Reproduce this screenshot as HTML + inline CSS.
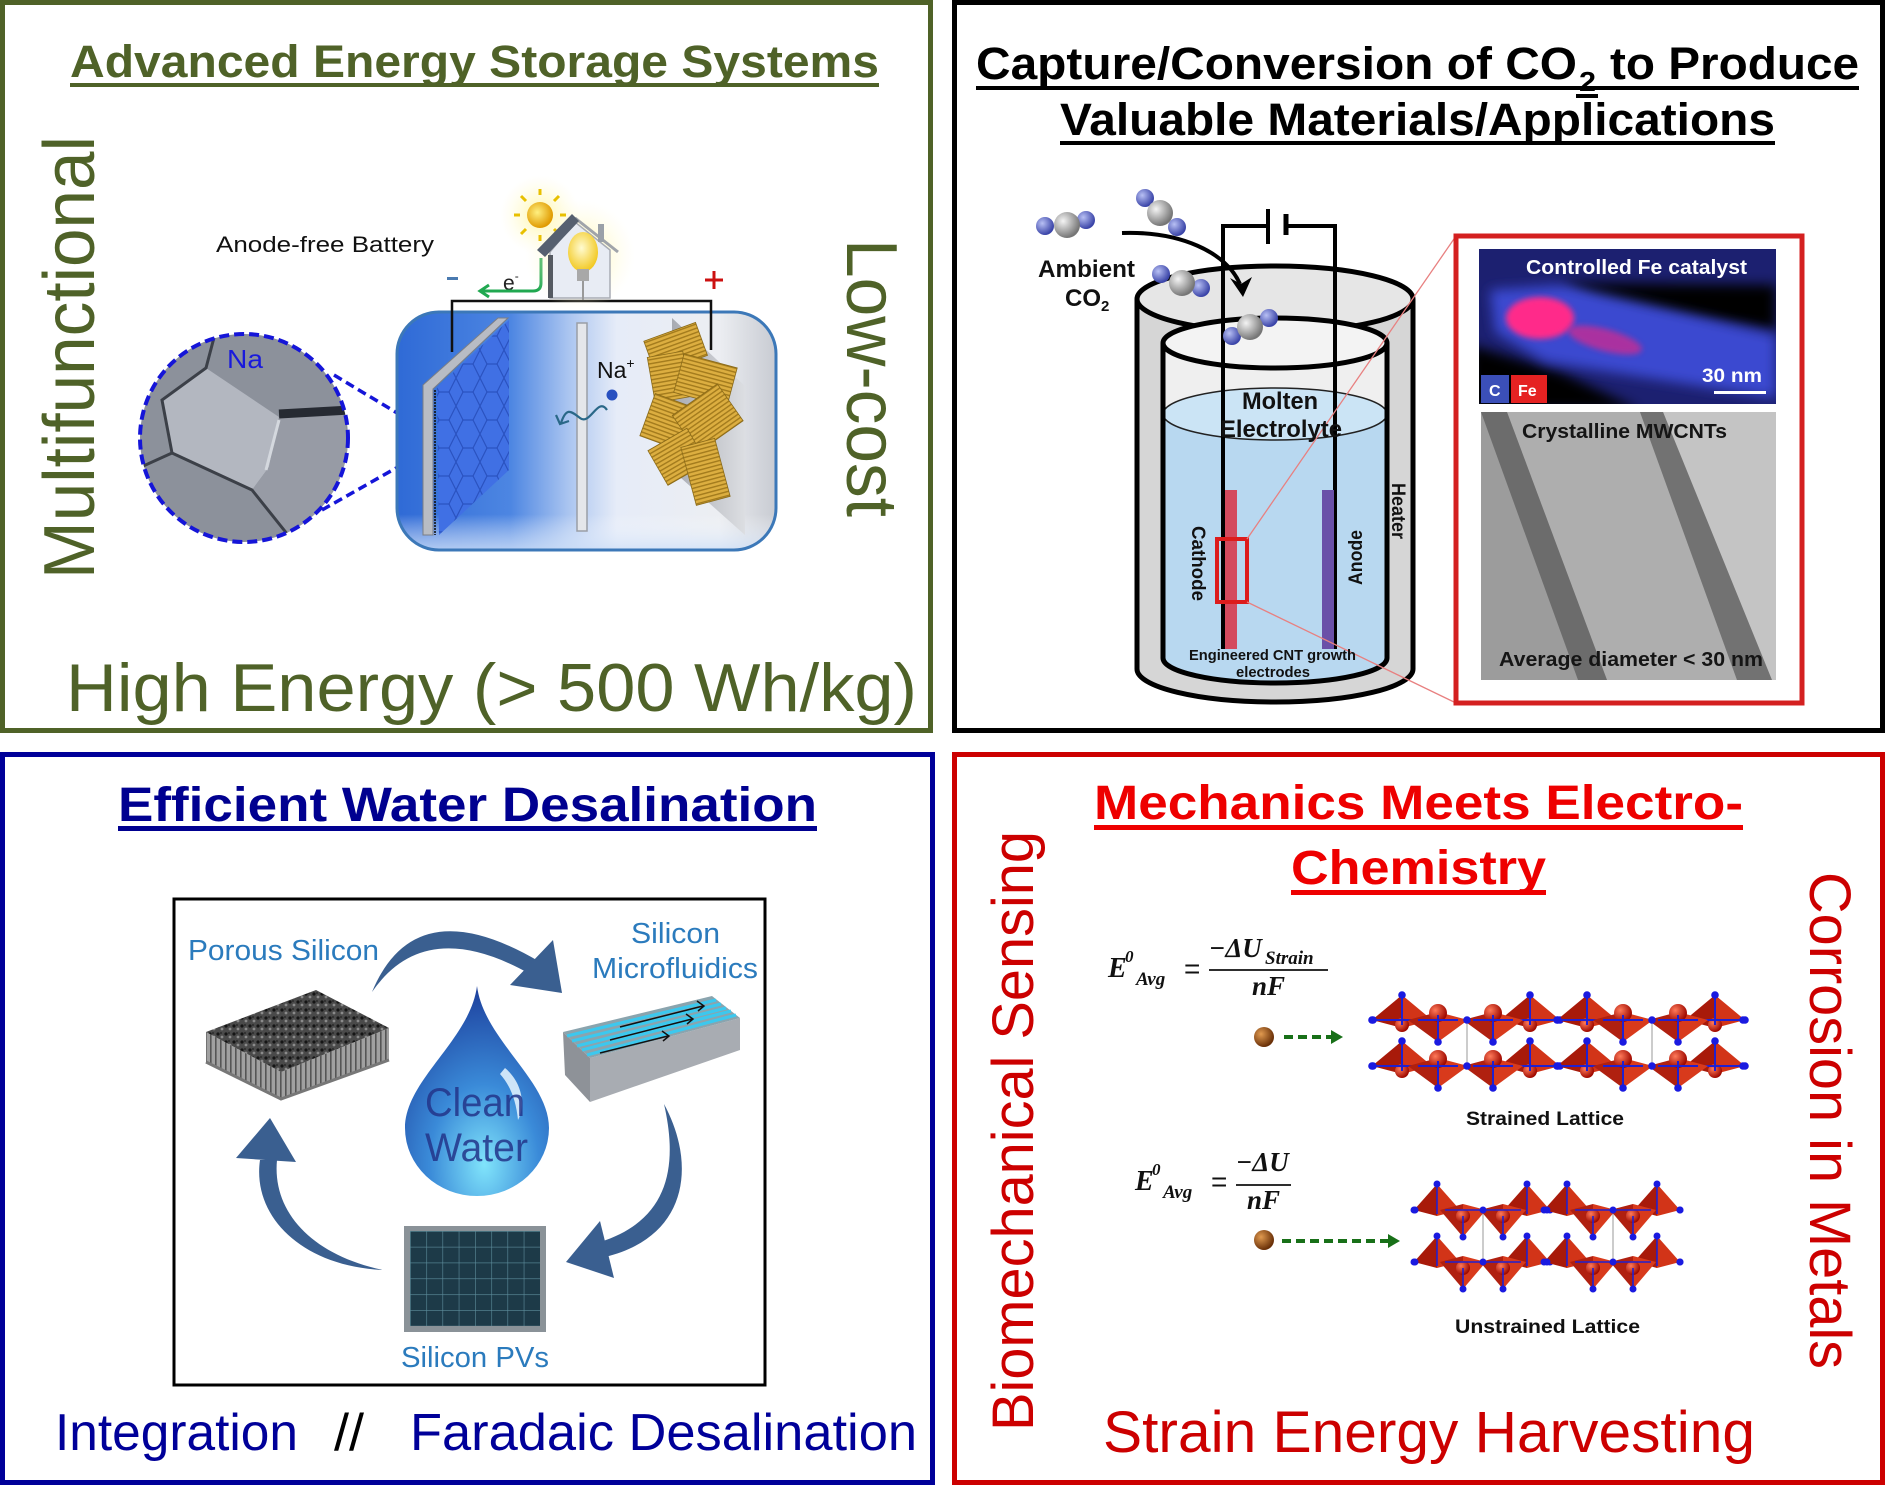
<!DOCTYPE html>
<html><head><meta charset="utf-8"><style>
html,body{margin:0;padding:0;background:#fff;}
svg{display:block;}
text{font-family:"Liberation Sans",Arial,sans-serif;}
.b{font-weight:bold;}
.m{font-family:"Liberation Serif","Times New Roman",serif;font-style:italic;font-weight:bold;}
</style></head><body>
<svg xmlns="http://www.w3.org/2000/svg" xmlns:xlink="http://www.w3.org/1999/xlink" width="1903" height="1505" viewBox="0 0 1903 1505">
<defs>
 <radialGradient id="gGray" cx="35%" cy="35%" r="65%"><stop offset="0" stop-color="#f4f4f4"/><stop offset="1" stop-color="#767676"/></radialGradient>
 <radialGradient id="gBlue" cx="35%" cy="35%" r="65%"><stop offset="0" stop-color="#b8c0f4"/><stop offset="1" stop-color="#3a44a8"/></radialGradient>
 <radialGradient id="gRed" cx="35%" cy="35%" r="65%"><stop offset="0" stop-color="#ff7a5a"/><stop offset="1" stop-color="#a00a00"/></radialGradient>
 <radialGradient id="gBrown" cx="35%" cy="35%" r="65%"><stop offset="0" stop-color="#e09a50"/><stop offset="1" stop-color="#6a3008"/></radialGradient>
 <radialGradient id="gSun" cx="40%" cy="40%" r="60%"><stop offset="0" stop-color="#fff080"/><stop offset="1" stop-color="#e09a00"/></radialGradient>
 <radialGradient id="gBulb" cx="45%" cy="40%" r="60%"><stop offset="0" stop-color="#fffbd0"/><stop offset="1" stop-color="#f2c820"/></radialGradient>
 <radialGradient id="gGlow" cx="50%" cy="50%" r="50%"><stop offset="0" stop-color="#fff7a0" stop-opacity="1"/><stop offset="1" stop-color="#fffbe0" stop-opacity="0"/></radialGradient>
 <radialGradient id="gDrop" cx="0.55" cy="0.85" r="0.85"><stop offset="0" stop-color="#80e4fb"/><stop offset="0.45" stop-color="#3a8ad8"/><stop offset="1" stop-color="#1d3f9c"/></radialGradient>
 <linearGradient id="gBox" x1="0" x2="1" y1="0" y2="0">
   <stop offset="0" stop-color="#2f6ad6"/><stop offset="0.3" stop-color="#4d86e2"/><stop offset="0.45" stop-color="#a9c4f0"/><stop offset="0.58" stop-color="#e6ecf8"/><stop offset="0.85" stop-color="#eceef2"/><stop offset="1" stop-color="#c8cbd2"/>
 </linearGradient>
 <linearGradient id="gBoxV" x1="0" x2="0" y1="0" y2="1">
   <stop offset="0" stop-color="#ffffff" stop-opacity="0"/><stop offset="0.85" stop-color="#ffffff" stop-opacity="0"/><stop offset="1" stop-color="#cfe0f8" stop-opacity="0.8"/>
 </linearGradient>
 <linearGradient id="gPlate" x1="0" x2="1" y1="0" y2="0"><stop offset="0" stop-color="#a8abb2"/><stop offset="1" stop-color="#dcdee2"/></linearGradient>
 <pattern id="pHex" patternUnits="userSpaceOnUse" width="24" height="28"><rect width="24" height="28" fill="#4070e4"/><path d="M0,14 L7,0 H17 L24,14 L17,28 H7 Z" fill="none" stroke="#2a52c0" stroke-width="1.2"/></pattern>
 <pattern id="pGold" patternUnits="userSpaceOnUse" width="4" height="4"><rect width="4" height="4" fill="#dcae40"/><rect width="4" height="1.4" fill="#a27a1c"/></pattern>
 <pattern id="pPV" patternUnits="userSpaceOnUse" x="410" y="1231" width="16.25" height="15.8"><rect width="16.25" height="15.8" fill="#1d3a48"/><path d="M0,0 H16.25 M0,0 V15.8" stroke="#5d8d9c" stroke-width="1.2"/></pattern>
 <pattern id="pPor" patternUnits="userSpaceOnUse" width="8" height="8"><rect width="8" height="8" fill="#4a4a4a"/><circle cx="2" cy="2" r="1.6" fill="#151515"/><circle cx="6" cy="5" r="1.4" fill="#8a8a8a"/><circle cx="5" cy="1" r="0.9" fill="#222"/></pattern>
 <pattern id="pVs" patternUnits="userSpaceOnUse" width="5" height="10"><rect width="5" height="10" fill="#a0a0a0"/><rect width="1.6" height="10" fill="#555"/></pattern>
 <filter id="fb6" x="-50%" y="-50%" width="200%" height="200%"><feGaussianBlur stdDeviation="6"/></filter>
 <filter id="fb3" x="-50%" y="-50%" width="200%" height="200%"><feGaussianBlur stdDeviation="3"/></filter>
 <clipPath id="cMag"><circle cx="244" cy="438" r="104"/></clipPath>
 <clipPath id="cEdx"><rect x="1479" y="249" width="297" height="155"/></clipPath>
 <clipPath id="cTem"><rect x="1481" y="412" width="295" height="268"/></clipPath>
 <g id="su"><polygon points="0,-25 -30,0 0,8" fill="#a81a0a"/><polygon points="0,-25 0,8 30,0" fill="#d23418"/><circle cx="0" cy="5" r="7" fill="url(#gRed)"/><path d="M0,-25 V5 M-30,0 H30" stroke="#2020d0" stroke-width="2"/><circle cx="0" cy="-25" r="3.8" fill="#1a1ae0"/><circle cx="-30" cy="0" r="3.8" fill="#1a1ae0"/><circle cx="30" cy="0" r="3.8" fill="#1a1ae0"/></g>
 <g id="sd"><polygon points="0,22 -30,0 0,-8" fill="#b02010"/><polygon points="0,22 0,-8 30,0" fill="#d83a1c"/><circle cx="0" cy="-7" r="9" fill="url(#gRed)"/><path d="M0,22 V-5 M-20,0 H20" stroke="#2020d0" stroke-width="2"/><circle cx="0" cy="22" r="3.8" fill="#1a1ae0"/></g>
 <g id="uu"><polygon points="0,-26 -23,0 0,6" fill="#a81a0a"/><polygon points="0,-26 0,6 23,0" fill="#d23418"/><path d="M0,-26 V4" stroke="#2020d0" stroke-width="1.6"/><circle cx="0" cy="-26" r="3.5" fill="#1a1ae0"/><circle cx="-23" cy="0" r="3.5" fill="#1a1ae0"/><circle cx="23" cy="0" r="3.5" fill="#1a1ae0"/></g>
 <g id="ud"><polygon points="0,27 -23,0 0,-6" fill="#b02010"/><polygon points="0,27 0,-6 23,0" fill="#d83a1c"/><circle cx="0" cy="6" r="7" fill="url(#gRed)"/><path d="M0,27 V6 M-18,0 H18" stroke="#2020d0" stroke-width="1.6"/><circle cx="0" cy="27" r="3.5" fill="#1a1ae0"/></g>
 <g id="co2g"><circle r="13" fill="url(#gGray)"/></g>
 <g id="co2b"><circle r="9" fill="url(#gBlue)"/></g>
</defs>
<rect width="1903" height="1505" fill="#fff"/>

<!-- ================= TOP LEFT ================= -->
<rect x="2.5" y="2.5" width="928" height="728" fill="none" stroke="#4f6228" stroke-width="5"/>
<text x="70" y="77" class="b" font-size="45" fill="#4f6228" textLength="809" lengthAdjust="spacingAndGlyphs">Advanced Energy Storage Systems</text>
<rect x="70" y="83" width="809" height="4" fill="#4f6228"/>
<text transform="translate(94,579) rotate(-90)" font-size="72" fill="#4f6228" textLength="443" lengthAdjust="spacingAndGlyphs">Multifunctional</text>
<text transform="translate(847,239) rotate(90)" font-size="72" fill="#4f6228" textLength="278" lengthAdjust="spacingAndGlyphs">Low-cost</text>
<text x="66" y="711" font-size="68" fill="#4f6228" textLength="851" lengthAdjust="spacingAndGlyphs">High Energy (&gt; 500 Wh/kg)</text>

<text x="216" y="252" font-size="22" fill="#111" textLength="218" lengthAdjust="spacingAndGlyphs">Anode-free Battery</text>

<g clip-path="url(#cMag)">
 <rect x="138" y="332" width="212" height="212" fill="#8c919b"/>
 <polygon points="162,400 206,368 279,417 269,467 252,490 172,453" fill="#b3b7c0"/>
 <polygon points="252,490 269,467 279,417 345,412 352,520 300,548" fill="#979ba5"/>
 <polyline points="130,472 172,453 162,400 206,368 216,330" fill="none" stroke="#3c4048" stroke-width="3"/>
 <line x1="279" y1="414" x2="350" y2="410" stroke="#262a32" stroke-width="9"/>
 <polyline points="172,453 252,490 292,540" fill="none" stroke="#3c4048" stroke-width="3"/>
 <line x1="279" y1="420" x2="266" y2="470" stroke="#d4d8de" stroke-width="3"/>
</g>
<circle cx="244" cy="438" r="104" fill="none" stroke="#1515d8" stroke-width="4" stroke-dasharray="10 5"/>
<text x="227" y="368" font-size="26" fill="#1a1adc" textLength="36" lengthAdjust="spacingAndGlyphs">Na</text>
<line x1="334" y1="375" x2="442" y2="440" stroke="#1515d8" stroke-width="3.5" stroke-dasharray="9 5"/>
<line x1="322" y1="510" x2="442" y2="442" stroke="#1515d8" stroke-width="3.5" stroke-dasharray="9 5"/>

<rect x="397" y="312" width="379" height="238" rx="42" fill="url(#gBox)"/>
<rect x="397" y="312" width="379" height="238" rx="42" fill="url(#gBoxV)"/>
<rect x="397" y="312" width="379" height="238" rx="42" fill="none" stroke="#3c78b8" stroke-width="3"/>
<polygon points="423,385 498,318 508,318 433,389 433,535 423,535" fill="#b8bcc4" stroke="#7a7e86" stroke-width="1"/>
<polygon points="437,388 509,320 509,470 439,535" fill="url(#pHex)"/>
<line x1="435" y1="390" x2="435" y2="535" stroke="#111" stroke-width="1.6" stroke-dasharray="2 1"/>
<rect x="577" y="323" width="10" height="208" fill="#e4e6ea" stroke="#9a9ea6" stroke-width="1.5"/>
<text x="597" y="378" font-size="23" fill="#111">Na<tspan font-size="14" dy="-10">+</tspan></text>
<circle cx="612" cy="395" r="5.5" fill="#2850c0"/>
<path d="M607,410 C598,396 590,426 580,418 S566,408 561,423" fill="none" stroke="#2a6888" stroke-width="2.2"/>
<polyline points="556,415 560,424 569,421" fill="none" stroke="#2a6888" stroke-width="2.2"/>
<polygon points="672,318 745,386 745,535 672,470" fill="url(#gPlate)"/>
<g stroke="#8a6a18" stroke-width="0.8">
 <rect x="648" y="331" width="55" height="35" transform="rotate(-20 675 348)" fill="url(#pGold)"/>
 <rect x="651" y="354" width="36" height="46" transform="rotate(-10 669 377)" fill="url(#pGold)"/>
 <rect x="678" y="360" width="55" height="40" transform="rotate(15 705 380)" fill="url(#pGold)"/>
 <rect x="646" y="400" width="45" height="45" transform="rotate(20 669 423)" fill="url(#pGold)"/>
 <rect x="680" y="396" width="55" height="45" transform="rotate(-35 707 418)" fill="url(#pGold)"/>
 <rect x="655" y="437" width="45" height="40" transform="rotate(-30 677 457)" fill="url(#pGold)"/>
 <rect x="688" y="442" width="35" height="60" transform="rotate(-15 705 472)" fill="url(#pGold)"/>
</g>
<path d="M452,352 V301 H711 V350" fill="none" stroke="#111" stroke-width="2.5"/>
<rect x="447" y="277" width="11" height="3" fill="#4a7ab0"/>
<path d="M705,280 H723 M714,271 V289" stroke="#cc1010" stroke-width="3"/>
<text x="503" y="290" font-size="21" fill="#222">e<tspan font-size="12" dy="-10">-</tspan></text>
<path d="M541,258 V283 Q541,291 533,291 H482" fill="none" stroke="#20a850" stroke-width="3"/>
<polyline points="489,285 480,291 489,297" fill="none" stroke="#20a850" stroke-width="3"/>
<circle cx="540" cy="215" r="40" fill="url(#gGlow)"/>
<circle cx="580" cy="255" r="55" fill="url(#gGlow)"/>
<g stroke="#e8c000" stroke-width="3">
 <path d="M540,195 V189 M540,235 V241 M520,215 H514 M560,215 H566 M526,201 L521,196 M554,229 L559,234 M554,201 L559,196 M526,229 L521,234"/>
</g>
<circle cx="540" cy="215" r="13" fill="url(#gSun)"/>
<polygon points="550,252 575,222 610,250 610,298 550,298" fill="#e8ecf4" stroke="#a8acb4" stroke-width="1.5"/>
<line x1="575" y1="218" x2="618" y2="252" stroke="#a0a4aa" stroke-width="3"/>
<rect x="598" y="224" width="6" height="18" fill="#9aa0a8"/>
<polygon points="537,250 572,214 579,221 545,257" fill="#566070"/>
<rect x="548" y="255" width="5" height="43" fill="#555a62"/>
<ellipse cx="583" cy="252" rx="15" ry="20" fill="url(#gBulb)"/>
<rect x="577" y="269" width="12" height="12" fill="#a8a8a8"/>
<line x1="583" y1="281" x2="583" y2="300" stroke="#999" stroke-width="2"/>

<!-- ================= TOP RIGHT ================= -->
<rect x="954.5" y="2.5" width="928" height="728" fill="none" stroke="#000" stroke-width="5"/>
<text x="976" y="79" class="b" font-size="45" fill="#000" textLength="601" lengthAdjust="spacingAndGlyphs">Capture/Conversion of CO</text>
<text x="1579" y="91" class="b" font-size="28" fill="#000" textLength="17" lengthAdjust="spacingAndGlyphs">2</text>
<text x="1610" y="79" class="b" font-size="45" fill="#000" textLength="249" lengthAdjust="spacingAndGlyphs">to Produce</text>
<rect x="976" y="86" width="883" height="4" fill="#000"/>
<rect x="1576" y="94" width="22" height="4" fill="#000"/>
<text x="1060" y="135" class="b" font-size="45" fill="#000" textLength="715" lengthAdjust="spacingAndGlyphs">Valuable Materials/Applications</text>
<rect x="1060" y="141" width="715" height="4" fill="#000"/>

<path d="M1137,299 A138,33 0 0 1 1413,299 V669 A138,33 0 0 1 1137,669 Z" fill="#d6d6d6"/>
<ellipse cx="1275" cy="299" rx="138" ry="33" fill="#e6e6e6" stroke="#000" stroke-width="5"/>
<path d="M1163,343 V658 A112,25 0 0 0 1387,658 V343 Z" fill="#efefef"/>
<ellipse cx="1275" cy="343" rx="112" ry="25" fill="#f3f3f3" stroke="#000" stroke-width="5"/>
<path d="M1163,414 A112,26 0 0 0 1387,414 V658 A112,25 0 0 1 1163,658 Z" fill="#b8d8f0"/>
<ellipse cx="1275" cy="414" rx="112" ry="26" fill="#cbe4f5" stroke="#222" stroke-width="1.5"/>
<path d="M1163,343 V658 A112,25 0 0 0 1387,658 V343" fill="none" stroke="#000" stroke-width="5"/>
<path d="M1137,299 V669 A138,33 0 0 0 1413,669 V299" fill="none" stroke="#000" stroke-width="5"/>
<path d="M1223,649 V226 H1268 M1285,226 H1335 V649" fill="none" stroke="#000" stroke-width="4"/>
<line x1="1268" y1="209" x2="1268" y2="244" stroke="#000" stroke-width="4"/>
<line x1="1286" y1="214" x2="1286" y2="235" stroke="#000" stroke-width="5"/>
<rect x="1225" y="490" width="12" height="159" fill="#d44a5e"/>
<rect x="1322" y="490" width="12" height="159" fill="#6a50a8"/>
<rect x="1217" y="539" width="30" height="63" fill="none" stroke="#dd1c1c" stroke-width="4"/>
<line x1="1247" y1="539" x2="1456" y2="236" stroke="#e88080" stroke-width="1.3"/>
<line x1="1247" y1="602" x2="1456" y2="703" stroke="#e88080" stroke-width="1.3"/>
<text x="1242" y="409" class="b" font-size="24" fill="#111" textLength="76" lengthAdjust="spacingAndGlyphs">Molten</text>
<text x="1220" y="437" class="b" font-size="24" fill="#111" textLength="122" lengthAdjust="spacingAndGlyphs">Electrolyte</text>
<text transform="translate(1192,526) rotate(90)" class="b" font-size="19" fill="#111" textLength="75" lengthAdjust="spacingAndGlyphs">Cathode</text>
<text transform="translate(1362,585) rotate(-90)" class="b" font-size="19" fill="#111" textLength="55" lengthAdjust="spacingAndGlyphs">Anode</text>
<text transform="translate(1392,483) rotate(90)" class="b" font-size="19" fill="#111" textLength="56" lengthAdjust="spacingAndGlyphs">Heater</text>
<text x="1189" y="660" class="b" font-size="15" fill="#111" textLength="167" lengthAdjust="spacingAndGlyphs">Engineered CNT growth</text>
<text x="1236" y="677" class="b" font-size="15" fill="#111" textLength="74" lengthAdjust="spacingAndGlyphs">electrodes</text>
<text x="1038" y="277" class="b" font-size="24" fill="#111" textLength="97" lengthAdjust="spacingAndGlyphs">Ambient</text>
<text x="1065" y="306" class="b" font-size="24" fill="#111">CO<tspan font-size="15" dy="5">2</tspan></text>
<path d="M1122,233 C1180,231 1226,252 1240,284" fill="none" stroke="#000" stroke-width="4"/>
<polygon points="1243,297 1230,278 1241,284 1252,277" fill="#000"/>
<use xlink:href="#co2b" x="1045" y="226"/><use xlink:href="#co2b" x="1086" y="220"/><use xlink:href="#co2g" x="1067" y="225"/>
<use xlink:href="#co2b" x="1145" y="198"/><use xlink:href="#co2b" x="1177" y="227"/><use xlink:href="#co2g" x="1160" y="213"/>
<use xlink:href="#co2b" x="1161" y="274"/><use xlink:href="#co2b" x="1201" y="288"/><use xlink:href="#co2g" x="1182" y="283"/>
<use xlink:href="#co2b" x="1232" y="336"/><use xlink:href="#co2b" x="1269" y="318"/><use xlink:href="#co2g" x="1250" y="327"/>

<rect x="1456" y="236" width="346" height="467" fill="#fff" stroke="#d42020" stroke-width="5"/>
<g clip-path="url(#cEdx)">
 <rect x="1479" y="249" width="297" height="155" fill="#1c2070"/>
 <polygon points="1560,283 1776,285 1776,330 1600,305" fill="#000" filter="url(#fb6)"/>
 <polygon points="1470,345 1470,410 1640,410 1560,372" fill="#000" filter="url(#fb6)"/>
 <polygon points="1490,290 1565,285 1776,335 1776,398 1545,362 1495,332" fill="#3a48d0" filter="url(#fb6)"/>
 <ellipse cx="1540" cy="318" rx="34" ry="21" fill="#ff2a8a" filter="url(#fb3)"/>
 <ellipse cx="1605" cy="340" rx="38" ry="11" fill="#d02a90" opacity="0.75" transform="rotate(15 1605 340)" filter="url(#fb3)"/>
</g>
<text x="1526" y="274" class="b" font-size="20" fill="#fff" textLength="221" lengthAdjust="spacingAndGlyphs">Controlled Fe catalyst</text>
<rect x="1481" y="375" width="28" height="28" fill="#3b4fb8"/>
<rect x="1511" y="375" width="36" height="28" fill="#e52222"/>
<text x="1489" y="396" class="b" font-size="16" fill="#fff">C</text>
<text x="1518" y="396" class="b" font-size="16" fill="#fff">Fe</text>
<text x="1702" y="382" class="b" font-size="19" fill="#fff" textLength="60" lengthAdjust="spacingAndGlyphs">30 nm</text>
<rect x="1714" y="391" width="52" height="3" fill="#fff"/>
<g clip-path="url(#cTem)">
 <rect x="1481" y="412" width="295" height="268" fill="#9c9c9c"/>
 <polygon points="1507,412 1640,412 1737,680 1607,680" fill="#aeaeae"/>
 <polygon points="1663,412 1776,412 1776,680 1770,680" fill="#c4c4c4"/>
 <polygon points="1481,412 1507,412 1607,680 1578,680" fill="#6c6c6c"/>
 <polygon points="1640,412 1663,412 1772,680 1737,680" fill="#727272"/>
</g>
<text x="1522" y="438" class="b" font-size="20" fill="#151515" textLength="205" lengthAdjust="spacingAndGlyphs">Crystalline MWCNTs</text>
<text x="1499" y="666" class="b" font-size="20" fill="#151515" textLength="264" lengthAdjust="spacingAndGlyphs">Average diameter &lt; 30 nm</text>

<!-- ================= BOTTOM LEFT ================= -->
<rect x="2.5" y="754.5" width="930" height="728" fill="none" stroke="#000099" stroke-width="5"/>
<text x="118" y="821" class="b" font-size="48" fill="#000090" textLength="699" lengthAdjust="spacingAndGlyphs">Efficient Water Desalination</text>
<rect x="118" y="826" width="699" height="5" fill="#000090"/>
<rect x="174" y="899" width="591" height="486" fill="none" stroke="#000" stroke-width="3"/>
<text x="188" y="960" font-size="29" fill="#2b7bbd" textLength="191" lengthAdjust="spacingAndGlyphs">Porous Silicon</text>
<text x="631" y="943" font-size="29" fill="#2b7bbd" textLength="89" lengthAdjust="spacingAndGlyphs">Silicon</text>
<text x="592" y="978" font-size="29" fill="#2b7bbd" textLength="166" lengthAdjust="spacingAndGlyphs">Microfluidics</text>
<text x="401" y="1367" font-size="29" fill="#2b7bbd" textLength="148" lengthAdjust="spacingAndGlyphs">Silicon PVs</text>
<g fill="#3a5f90">
 <path d="M372,992 Q415,888 540,962 L530,974 Q425,915 372,992 Z"/>
 <polygon points="562,993 553,940 510,985"/>
 <path d="M664,1104 C697,1165 688,1237 605,1257 L600,1242 C670,1220 678,1165 664,1104 Z"/>
 <polygon points="566,1262 600,1221 614,1278"/>
 <path d="M383,1270 C300,1266 252,1215 260,1160 L277,1160 C272,1212 312,1255 383,1270 Z"/>
 <polygon points="270,1118 236,1158 296,1162"/>
</g>
<path d="M477,986 C470,1040 405,1080 405,1128 A72,68 0 0 0 549,1128 C549,1080 484,1040 477,986 Z" fill="url(#gDrop)"/>
<path d="M505,1068 C522,1082 526,1105 518,1120 C516,1100 510,1085 500,1074 Z" fill="#e8f6ff" opacity="0.85"/>
<text x="425" y="1116" font-size="40" fill="#23358a" opacity="0.85" textLength="100" lengthAdjust="spacingAndGlyphs">Clean</text>
<text x="425" y="1161" font-size="40" fill="#23358a" opacity="0.85" textLength="103" lengthAdjust="spacingAndGlyphs">Water</text>
<polygon points="206,1032 281,1072 281,1099 206,1062" fill="url(#pVs)"/>
<polygon points="281,1072 389,1028 389,1060 281,1099" fill="url(#pVs)"/>
<polygon points="206,1032 316,990 389,1028 281,1072" fill="url(#pPor)"/>
<path d="M206,1062 L281,1099 L389,1060" fill="none" stroke="#777" stroke-width="3"/>
<polygon points="563,1032 590,1058 590,1102 565,1075" fill="#8e9298"/>
<polygon points="590,1058 740,1018 740,1050 590,1102" fill="#a8acb2"/>
<polygon points="563,1032 712,996 740,1018 590,1058" fill="#8aa4ae"/>
<g stroke="#3cc8ee" stroke-width="3.2">
 <line x1="567" y1="1036" x2="716" y2="1000"/>
 <line x1="572" y1="1041" x2="721" y2="1004"/>
 <line x1="577" y1="1046" x2="726" y2="1008"/>
 <line x1="582" y1="1050" x2="731" y2="1011"/>
 <line x1="587" y1="1055" x2="736" y2="1015"/>
</g>
<g stroke="#111" stroke-width="1.5" fill="none">
 <path d="M620,1027 L703,1006 M697,1001 L704,1006 L698,1011"/>
 <path d="M610,1040 L692,1019 M686,1014 L693,1019 L687,1024"/>
 <path d="M600,1053 L668,1036 M662,1031 L669,1036 L663,1041"/>
</g>
<rect x="404" y="1226" width="142" height="106" fill="#8a9298"/>
<rect x="410" y="1231" width="130" height="95" fill="url(#pPV)"/>
<text x="55" y="1450" font-size="52" fill="#000099" textLength="243" lengthAdjust="spacingAndGlyphs">Integration</text>
<text x="334" y="1450" font-size="52" fill="#000" textLength="30" lengthAdjust="spacingAndGlyphs">//</text>
<text x="410" y="1450" font-size="52" fill="#000099" textLength="507" lengthAdjust="spacingAndGlyphs">Faradaic Desalination</text>

<!-- ================= BOTTOM RIGHT ================= -->
<rect x="954.5" y="754.5" width="928" height="728" fill="none" stroke="#cc0000" stroke-width="5"/>
<text x="1094" y="819" class="b" font-size="48" fill="#ee0000" textLength="649" lengthAdjust="spacingAndGlyphs">Mechanics Meets Electro-</text>
<rect x="1094" y="825" width="649" height="5" fill="#ee0000"/>
<text x="1291" y="884" class="b" font-size="48" fill="#ee0000" textLength="255" lengthAdjust="spacingAndGlyphs">Chemistry</text>
<rect x="1291" y="890" width="255" height="5" fill="#ee0000"/>
<text transform="translate(1033,1431) rotate(-90)" font-size="58" fill="#cc0000" textLength="600" lengthAdjust="spacingAndGlyphs">Biomechanical Sensing</text>
<text transform="translate(1810,872) rotate(90)" font-size="58" fill="#cc0000" textLength="497" lengthAdjust="spacingAndGlyphs">Corrosion in Metals</text>
<text x="1103" y="1452" font-size="58" fill="#cc0000" textLength="652" lengthAdjust="spacingAndGlyphs">Strain Energy Harvesting</text>

<text x="1108" y="977" class="m" font-size="28" fill="#111">E</text>
<text x="1125" y="962" class="m" font-size="17" fill="#111">0</text>
<text x="1136" y="985" class="m" font-size="19" fill="#111">Avg</text>
<text x="1184" y="978" font-family="Liberation Serif,serif" font-size="28" fill="#111">=</text>
<text x="1209" y="957" class="m" font-size="27" fill="#111">−ΔU</text>
<text x="1265" y="964" class="m" font-size="19" fill="#111">Strain</text>
<line x1="1209" y1="970" x2="1328" y2="970" stroke="#111" stroke-width="1.8"/>
<text x="1252" y="995" class="m" font-size="27" fill="#111">nF</text>
<text x="1135" y="1190" class="m" font-size="28" fill="#111">E</text>
<text x="1152" y="1175" class="m" font-size="17" fill="#111">0</text>
<text x="1163" y="1198" class="m" font-size="19" fill="#111">Avg</text>
<text x="1211" y="1191" font-family="Liberation Serif,serif" font-size="28" fill="#111">=</text>
<text x="1236" y="1171" class="m" font-size="27" fill="#111">−ΔU</text>
<line x1="1236" y1="1185" x2="1291" y2="1185" stroke="#111" stroke-width="1.8"/>
<text x="1247" y="1209" class="m" font-size="27" fill="#111">nF</text>
<circle cx="1264" cy="1037" r="10" fill="url(#gBrown)"/>
<line x1="1284" y1="1037" x2="1333" y2="1037" stroke="#187018" stroke-width="4" stroke-dasharray="9 5"/>
<polygon points="1343,1037 1331,1030 1331,1044" fill="#187018"/>
<circle cx="1264" cy="1240" r="10" fill="url(#gBrown)"/>
<line x1="1282" y1="1241" x2="1390" y2="1241" stroke="#187018" stroke-width="4" stroke-dasharray="9 5"/>
<polygon points="1400,1241 1388,1234 1388,1248" fill="#187018"/>

<g stroke="#999" stroke-width="1"><line x1="1467" y1="1020" x2="1467" y2="1066"/><line x1="1652" y1="1020" x2="1652" y2="1066"/></g>
<g stroke="#2828c8" stroke-width="2.5"><line x1="1373" y1="1020" x2="1743" y2="1020"/><line x1="1373" y1="1066" x2="1743" y2="1066"/></g>
<use xlink:href="#su" x="1402" y="1020"/><use xlink:href="#su" x="1530" y="1020"/><use xlink:href="#su" x="1587" y="1020"/><use xlink:href="#su" x="1715" y="1020"/>
<use xlink:href="#sd" x="1438" y="1020"/><use xlink:href="#sd" x="1493" y="1020"/><use xlink:href="#sd" x="1623" y="1020"/><use xlink:href="#sd" x="1678" y="1020"/>
<use xlink:href="#su" x="1402" y="1066"/><use xlink:href="#su" x="1530" y="1066"/><use xlink:href="#su" x="1587" y="1066"/><use xlink:href="#su" x="1715" y="1066"/>
<use xlink:href="#sd" x="1438" y="1066"/><use xlink:href="#sd" x="1493" y="1066"/><use xlink:href="#sd" x="1623" y="1066"/><use xlink:href="#sd" x="1678" y="1066"/>
<g fill="#1a1ae0"><circle cx="1373" cy="1020" r="3.8"/><circle cx="1467" cy="1020" r="3.8"/><circle cx="1558" cy="1020" r="3.8"/><circle cx="1652" cy="1020" r="3.8"/><circle cx="1743" cy="1020" r="3.8"/>
<circle cx="1373" cy="1066" r="3.8"/><circle cx="1467" cy="1066" r="3.8"/><circle cx="1558" cy="1066" r="3.8"/><circle cx="1652" cy="1066" r="3.8"/><circle cx="1743" cy="1066" r="3.8"/></g>
<text x="1466" y="1125" class="b" font-size="19" fill="#111" textLength="158" lengthAdjust="spacingAndGlyphs">Strained Lattice</text>

<g stroke="#999" stroke-width="1"><line x1="1483" y1="1210" x2="1483" y2="1262"/><line x1="1613" y1="1210" x2="1613" y2="1262"/><line x1="1415" y1="1210" x2="1680" y2="1210"/></g>
<g stroke="#2828c8" stroke-width="2"><line x1="1415" y1="1210" x2="1680" y2="1210" stroke-dasharray="30 20"/><line x1="1415" y1="1262" x2="1680" y2="1262" stroke-dasharray="30 20"/></g>
<use xlink:href="#uu" x="1437" y="1210"/><use xlink:href="#uu" x="1527" y="1210"/><use xlink:href="#uu" x="1567" y="1210"/><use xlink:href="#uu" x="1657" y="1210"/>
<use xlink:href="#ud" x="1463" y="1210"/><use xlink:href="#ud" x="1503" y="1210"/><use xlink:href="#ud" x="1593" y="1210"/><use xlink:href="#ud" x="1633" y="1210"/>
<use xlink:href="#uu" x="1437" y="1262"/><use xlink:href="#uu" x="1527" y="1262"/><use xlink:href="#uu" x="1567" y="1262"/><use xlink:href="#uu" x="1657" y="1262"/>
<use xlink:href="#ud" x="1463" y="1262"/><use xlink:href="#ud" x="1503" y="1262"/><use xlink:href="#ud" x="1593" y="1262"/><use xlink:href="#ud" x="1633" y="1262"/>
<g fill="#1a1ae0"><circle cx="1415" cy="1210" r="3.5"/><circle cx="1483" cy="1210" r="3.5"/><circle cx="1547" cy="1210" r="3.5"/><circle cx="1613" cy="1210" r="3.5"/><circle cx="1680" cy="1210" r="3.5"/>
<circle cx="1415" cy="1262" r="3.5"/><circle cx="1483" cy="1262" r="3.5"/><circle cx="1547" cy="1262" r="3.5"/><circle cx="1613" cy="1262" r="3.5"/><circle cx="1680" cy="1262" r="3.5"/></g>
<text x="1455" y="1333" class="b" font-size="19" fill="#111" textLength="185" lengthAdjust="spacingAndGlyphs">Unstrained Lattice</text>
</svg>
</body></html>
